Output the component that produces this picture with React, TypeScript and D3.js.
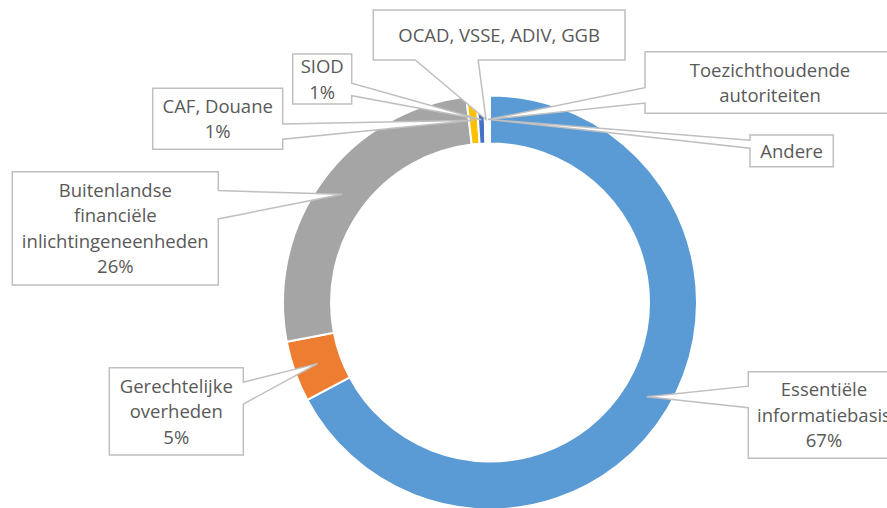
import React from 'react';
import * as d3 from 'd3';

// slice data, clockwise from 12 o'clock
const categories = [
  'Essentiële informatiebasis',
  'Gerechtelijke overheden',
  'Buitenlandse financiële inlichtingeneenheden',
  'CAF, Douane',
  'SIOD',
  'OCAD, VSSE, ADIV, GGB',
  'Toezichthoudende autoriteiten',
  'Andere',
];
const values = [67.17, 4.75, 26.2, 0.79, 0.59, 0.2, 0.15, 0.1];
const showPct = [true, true, true, true, true, false, false, false];
// how the label text is broken into lines
const labelLines = [
  ['Essentiële', 'informatiebasis'],
  ['Gerechtelijke', 'overheden'],
  ['Buitenlandse', 'financiële', 'inlichtingeneenheden'],
  ['CAF, Douane'],
  ['SIOD'],
  ['OCAD, VSSE, ADIV, GGB'],
  ['Toezichthoudende', 'autoriteiten'],
  ['Andere'],
];
const colors = ['#5B9BD5', '#ED7D31', '#A5A5A5', '#FFC000', '#4472C4', '#FFFFFF', '#FFFFFF', '#FFFFFF'];

// callout boxes [left, top, right, bottom]
const boxes = [
  [748.3, 371.7, 899.7, 458.3],
  [109.3, 367.7, 243.3, 455],
  [12.3, 171.7, 218.3, 285],
  [152.7, 88.3, 282.7, 149.3],
  [292.7, 54, 351.7, 104],
  [373.3, 10, 625, 60],
  [645, 51.7, 895, 113.3],
  [750, 135, 833.3, 166.7],
];

const W = 887;
const H = 508;
const cx = 490;
const cy = 302.5;
const outerR = 207;
const innerR = 159;
const fontSize = 18.5;
const lineH = 25.5;

// excel style wedgeRectCallout
function callout(l, t, r, b, px, py) {
  const w = r - l, h = b - t;
  const hc = (l + r) / 2, vc = (t + b) / 2;
  const dx = px - hc, dy = py - vc;
  const dq = dx * h / w;
  const dz = Math.abs(dy) - Math.abs(dq);
  const x1 = l + w * (dx > 0 ? 7 : 2) / 12, x2 = l + w * (dx > 0 ? 10 : 5) / 12;
  const y1 = t + h * (dy > 0 ? 7 : 2) / 12, y2 = t + h * (dy > 0 ? 10 : 5) / 12;
  let pts;
  if (dz > 0) {
    if (dy > 0) pts = [[l, t], [r, t], [r, b], [x2, b], [px, py], [x1, b], [l, b]];
    else pts = [[l, t], [x1, t], [px, py], [x2, t], [r, t], [r, b], [l, b]];
  } else {
    if (dx > 0) pts = [[l, t], [r, t], [r, y1], [px, py], [r, y2], [r, b], [l, b]];
    else pts = [[l, t], [r, t], [r, b], [l, b], [l, y2], [px, py], [l, y1]];
  }
  return 'M' + pts.map(p => p.join(',')).join('L') + 'Z';
}

export default function App() {
  const total = d3.sum(values);
  const pie = d3.pie<number>().sort(null).value(d => d);
  const arcs = pie(values);
  const arc = d3.arc<d3.PieArcDatum<number>>().innerRadius(innerR).outerRadius(outerR);

  return (
    <svg width={W} height={H} style={{ position: 'absolute', left: 0, top: 0, background: '#fff' }}
      fontFamily="'Open Sans', 'Noto Sans', sans-serif">
      <g transform={`translate(${cx},${cy})`}>
        {arcs.map((a, i) => (
          <path key={i} d={arc(a)} fill={colors[i]} stroke="#fff" strokeWidth={2} />
        ))}
      </g>
      {arcs.map((a, i) => {
        const [tx, ty] = arc.centroid(a);
        const [l, t, r, b] = boxes[i];
        const lines = showPct[i]
          ? [...labelLines[i], Math.round(values[i] / total * 100) + '%']
          : labelLines[i];
        const vc = (t + b) / 2;
        const x = (l + r) / 2;
        const y0 = vc - (lines.length - 1) * lineH / 2 + 6.8;
        return (
          <g key={categories[i]}>
            <path d={callout(l, t, r, b, tx + cx, ty + cy)} fill="#fff" stroke="#BFBFBF" strokeWidth={1.5} />
            <text fill="#595959" fontSize={fontSize} textAnchor="middle">
              {lines.map((s, j) => (
                <tspan key={j} x={x} y={y0 + j * lineH}>{s}</tspan>
              ))}
            </text>
          </g>
        );
      })}
    </svg>
  );
}
